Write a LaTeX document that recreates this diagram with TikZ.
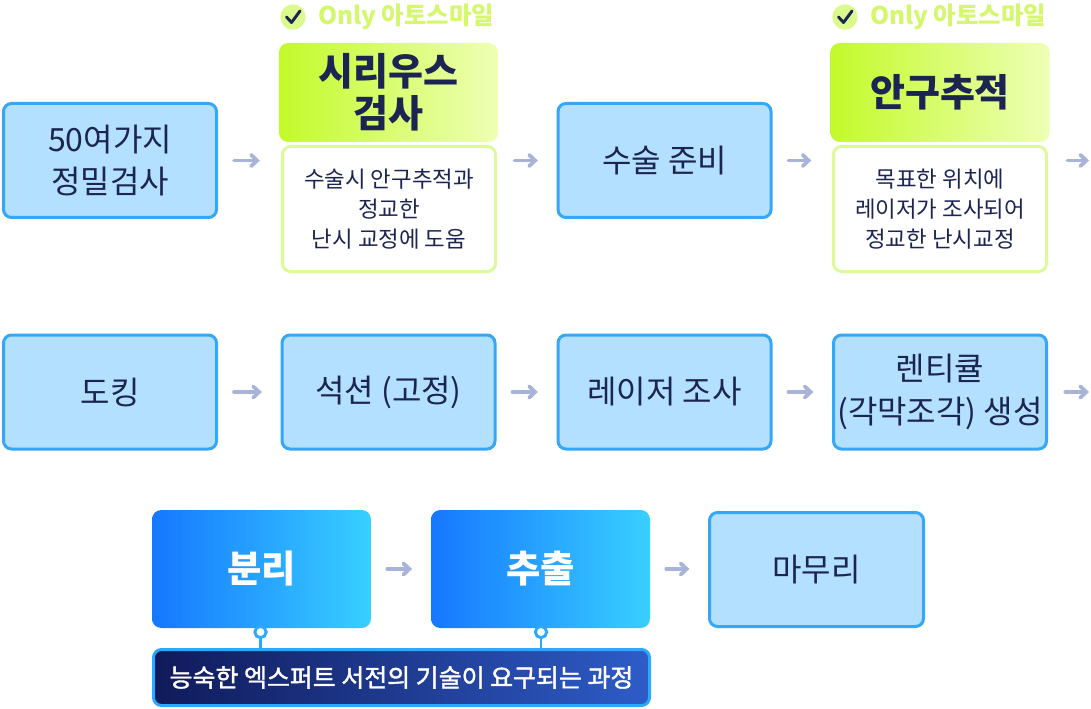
\documentclass[tikz,border=0pt]{standalone}
\usepackage{fontspec}
\setmainfont{Noto Sans CJK KR}
\newfontfamily\medfont[FakeBold=1.5]{Noto Sans CJK KR}
\usetikzlibrary{arrows.meta,calc,fit}
\definecolor{navy}{HTML}{1C2452}
\definecolor{boxfill}{HTML}{B3E0FF}
\definecolor{boxline}{HTML}{36A6F7}
\definecolor{arrowc}{HTML}{A8B3DA}
\definecolor{limeL}{HTML}{C3FA2A}
\definecolor{limeR}{HTML}{EEFFB5}
\definecolor{limeline}{HTML}{DDFA9A}
\definecolor{limetext}{HTML}{D4F76E}
\definecolor{limecirc}{HTML}{DAFA8E}
\definecolor{blueL}{HTML}{1677FF}
\definecolor{blueR}{HTML}{38D0FF}
\definecolor{barL}{HTML}{101A5A}
\definecolor{barR}{HTML}{2E5CC8}
\definecolor{barline}{HTML}{2EA8FF}
\tikzset{
 stepbox/.style={draw=boxline, line width=2.25pt, fill=boxfill, rounded corners=6pt, minimum width=159.75pt, minimum height=85.5pt, align=center, text=navy, font=\fontsize{24}{32}\selectfont, inner sep=0pt},
 head/.style={rounded corners=7pt, left color=limeL, right color=limeR, minimum width=164.25pt, minimum height=74.25pt, align=center, text=navy, font=\bfseries\fontsize{28.5}{31.5}\selectfont, inner sep=0pt},
 note/.style={draw=limeline, line width=2.25pt, fill=white, rounded corners=6pt, minimum width=159.75pt, minimum height=93.75pt, align=center, text=navy, font=\fontsize{16.8}{22.5}\selectfont, inner sep=0pt},
 bluebox/.style={rounded corners=7pt, left color=blueL, right color=blueR, minimum width=164.25pt, minimum height=88.5pt, text=white, font=\bfseries\fontsize{28}{30}\selectfont, inner sep=0pt},
 arr/.style={draw=arrowc, line width=2.8pt, line cap=round, -{Straight Barb[length=4.5pt,width=8.5pt,line cap=round]}, shorten <=12pt, shorten >=14pt},
 only/.style={text=limetext, font=\bfseries\fontsize{18.3}{20}\selectfont, anchor=west, inner sep=0pt},
 checkc/.style={circle, fill=limecirc, minimum size=19pt, inner sep=0pt},
 pinc/.style={circle, draw=barline, line width=2.2pt, fill=white, minimum size=8.5pt, inner sep=0pt},
}
\begin{document}
\begin{tikzpicture}[x=0.75pt,y=-0.75pt]
\useasboundingbox (0,0) rectangle (1091,709);
% row 1
\node[stepbox] (a) at (110,160.5) {50여가지\\정밀검사};
\node[head] (sh) at (388.5,92.5) {시리우스\\검사};
\node[note] (sb) at (389,209) {수술시 안구추적과\\정교한\\난시 교정에 도움};
\node[fit=(sh)(sb), inner sep=0pt] (sirius) {};
\node[checkc] (c1) at (293,17) {};
\draw[navy, line width=2.2pt, line cap=round, line join=round] ($(c1)+(-6.5,0)$) -- ($(c1)+(-1.5,5.5)$) -- ($(c1)+(7,-6)$);
\node[only] (o1) at (318,16.5) {Only 아토스마일};
\node[stepbox] (prep) at (664.5,160.5) {수술 준비};
\node[head] (eh) at (940,92.5) {안구추적};
\node[note] (eb) at (940,209) {목표한 위치에\\레이저가 조사되어\\정교한 난시교정};
\node[fit=(eh)(eb), inner sep=0pt] (eye) {};
\node[checkc] (c2) at (845,17) {};
\draw[navy, line width=2.2pt, line cap=round, line join=round] ($(c2)+(-6.5,0)$) -- ($(c2)+(-1.5,5.5)$) -- ($(c2)+(7,-6)$);
\node[only] (o2) at (870,16.5) {Only 아토스마일};
\coordinate (end1) at (1089,160.5);
\draw[arr] (a.east) -- (a.east -| sirius.west);
\draw[arr] (sirius.east |- prep.west) -- (prep.west);
\draw[arr] (prep.east) -- (prep.east -| eye.west);
\draw[arr, shorten >=0pt, shorten <=13pt] (eye.east |- end1) -- (end1);
% row 2
\node[stepbox] (dock) at (110,392) {도킹};
\node[stepbox] (suc) at (388.5,392) {석션 (고정)};
\node[stepbox] (las) at (664.5,392) {레이저 조사};
\node[stepbox] (len) at (940,392) {렌티큘\\(각막조각) 생성};
\coordinate (end2) at (1089,392);
\draw[arr] (dock) -- (suc);
\draw[arr] (suc) -- (las);
\draw[arr] (las) -- (len);
\draw[arr, shorten >=0pt, shorten <=13pt] (len.east) -- (end2);
% row 3
\node[bluebox] (sep) at (261.5,569) {분리};
\node[bluebox] (ext) at (540.5,569) {추출};
\node[stepbox, minimum width=160.5pt] (fin) at (816.5,569.5) {마무리};
\draw[arr] (sep) -- (ext);
\draw[arr] (ext.east) -- (ext.east -| fin.west);
\node[draw=barline, line width=2.25pt, left color=barL, right color=barR, rounded corners=6pt, minimum width=372pt, minimum height=42pt, inner sep=0pt, text=white, font=\medfont\fontsize{18.7}{20}\selectfont] (bar) at (401.5,677.5) {능숙한 엑스퍼트 서전의 기술이 요구되는 과정};
\node[pinc] (p1) at (260.5,632) {};
\node[pinc] (p2) at (541,632) {};
\draw[barline, line width=2.2pt] (p1.south) -- (p1.south |- bar.north);
\draw[barline, line width=2.2pt] (p2.south) -- (p2.south |- bar.north);
\end{tikzpicture}
\end{document}
